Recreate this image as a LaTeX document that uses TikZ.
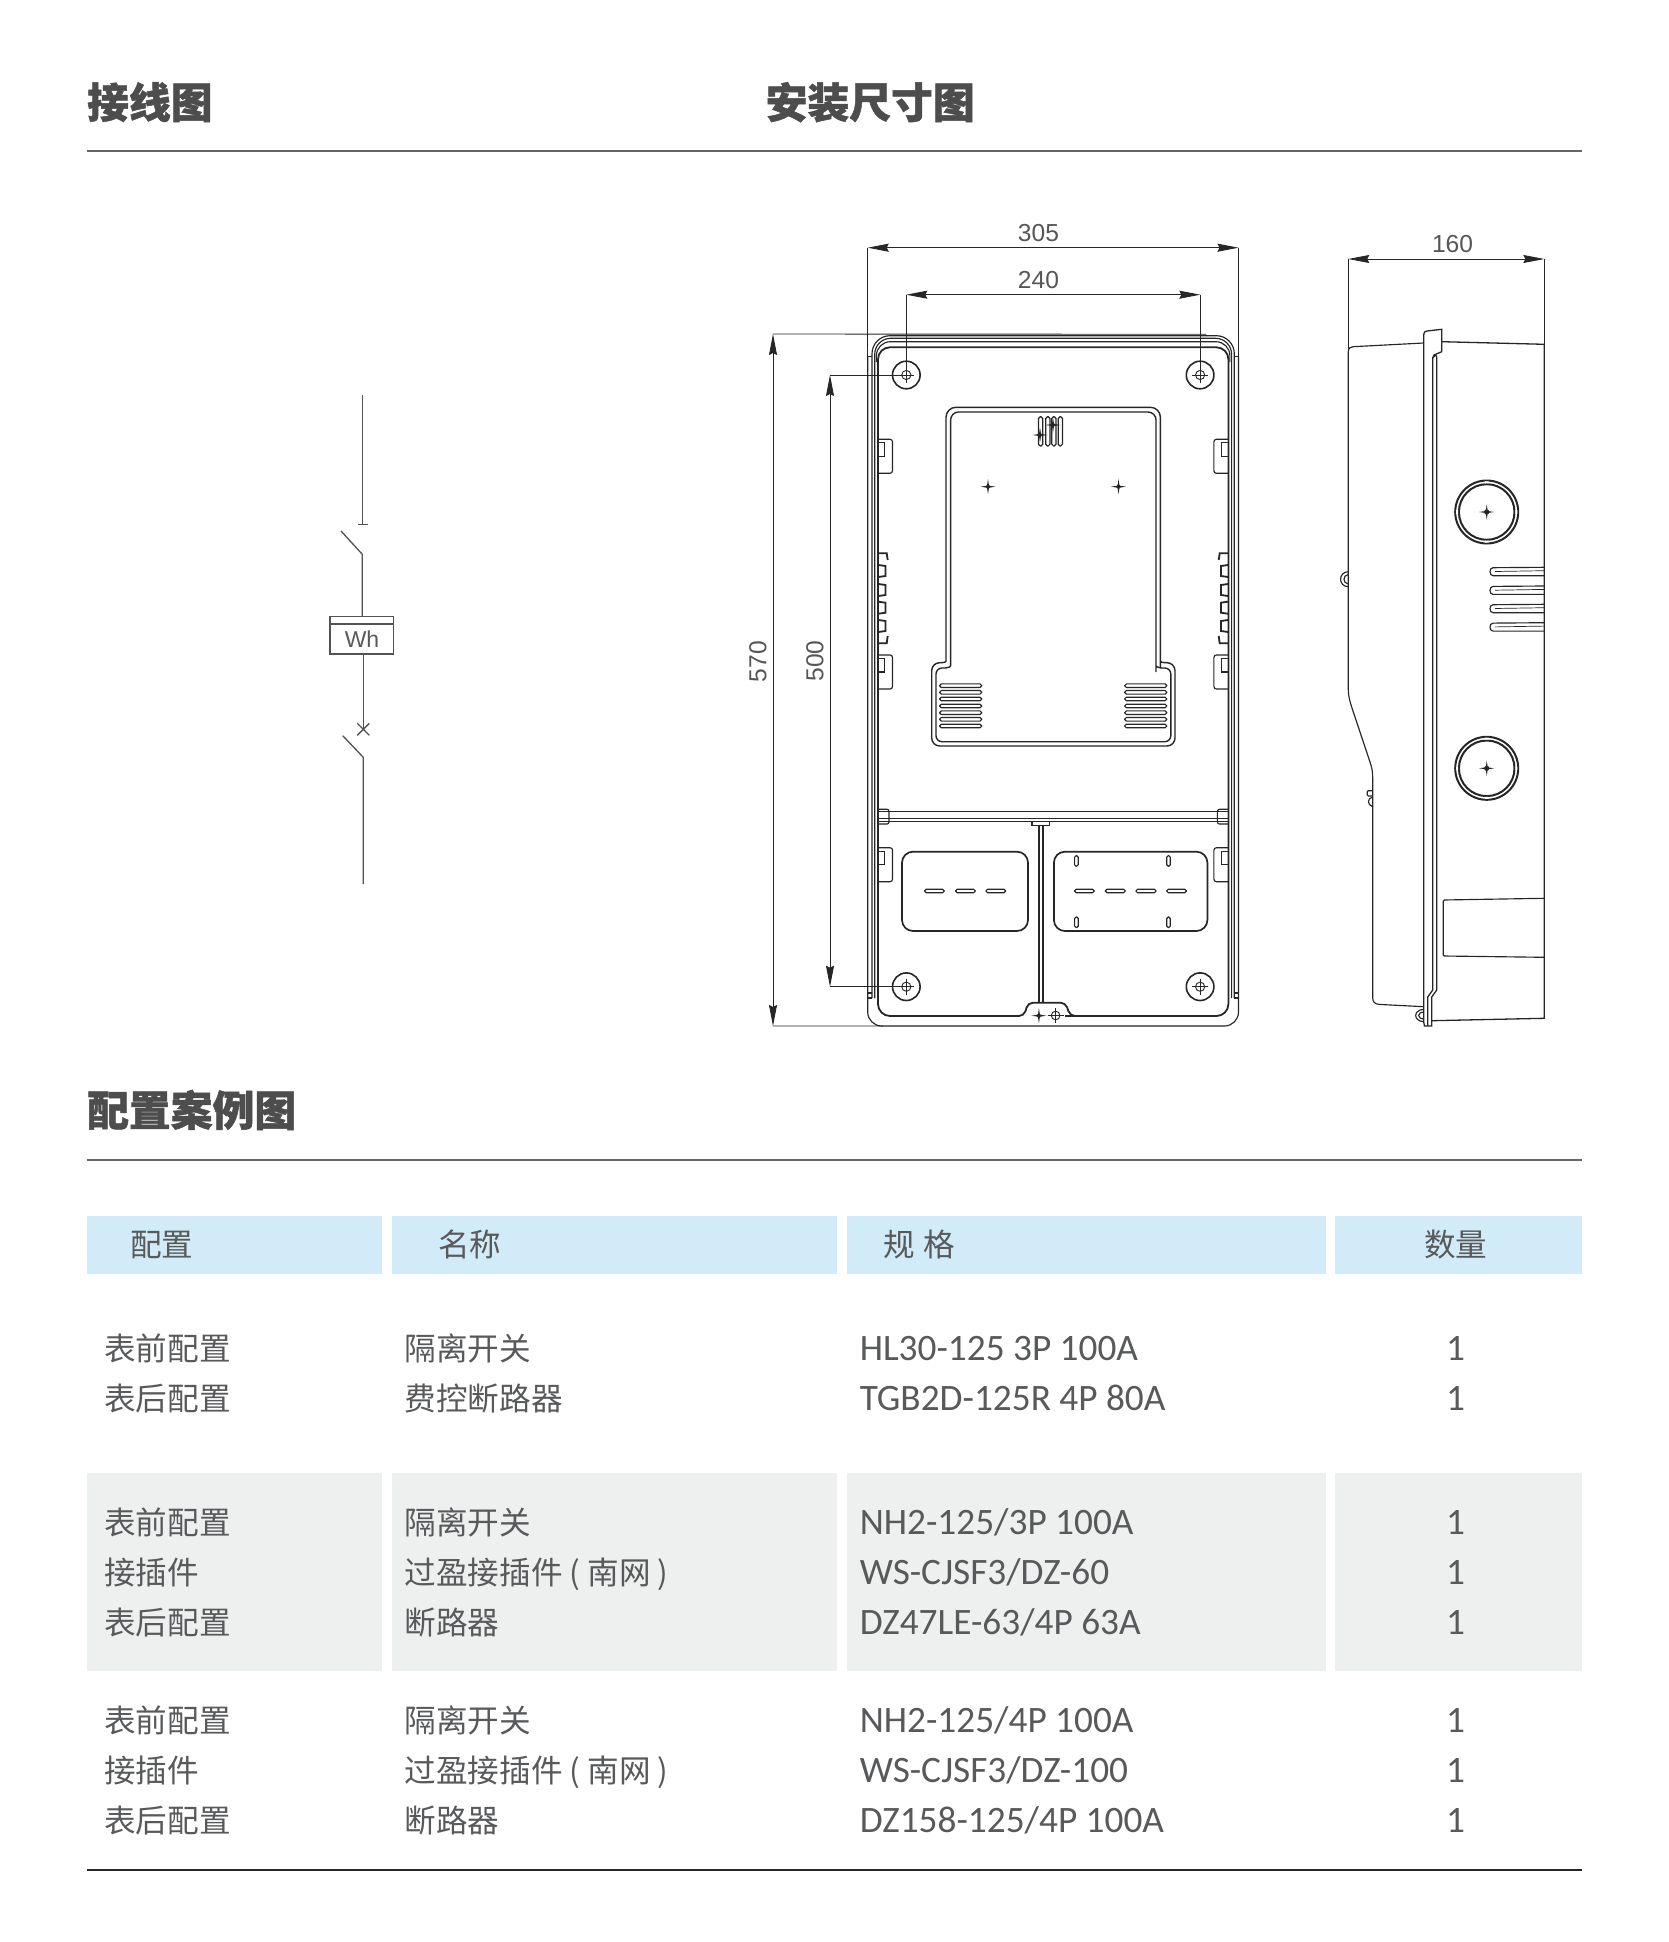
\documentclass[tikz,border=0pt]{standalone}
\usepackage{fontspec}
\usetikzlibrary{arrows.meta}
\setmainfont{Liberation Sans}
\newfontfamily\cjk{Noto Sans CJK SC}[BoldFeatures={FakeBold=1.2}]
\newfontfamily\latinrow{Carlito}
\definecolor{ink}{HTML}{262626}
\definecolor{txt}{HTML}{58595B}
\definecolor{ttl}{HTML}{4D4D4D}
\definecolor{hdr}{HTML}{D2EBF8}
\definecolor{band}{HTML}{EEEFEF}
\tikzset{
  part/.style={draw=ink,line width=1.15pt},
  heavy/.style={draw=ink,line width=1.8pt},
  dimline/.style={draw=ink,line width=0.9pt,{Stealth[length=21pt,width=8pt,inset=2pt]}-{Stealth[length=21pt,width=8pt,inset=2pt]}},
  extline/.style={draw=ink,line width=0.9pt},
  dimtext/.style={inner sep=0pt,text=ink!78,font=\fontsize{24.6}{25}\selectfont},
  wire/.style={draw=black!68,line width=1.3pt},
  title/.style={inner sep=0pt,anchor=base west,text=ttl,font=\cjk\bfseries\fontsize{41.8}{42}\selectfont},
  rule/.style={draw=black!60,line width=1.1pt},
  cellh/.style={fill=hdr,draw=none},
  cellg/.style={fill=band,draw=none},
  cjkcell/.style={inner sep=0pt,anchor=base west,text=txt,font=\cjk\fontsize{31.6}{32}\selectfont},
  spec/.style={inner sep=0pt,anchor=base west,text=txt,font=\latinrow\fontsize{37.3}{38}\selectfont},
  qty/.style={inner sep=0pt,anchor=base,text=txt,font=\latinrow\fontsize{37.3}{38}\selectfont},
}
% markers
\newcommand{\starshape}[3]{%
  \fill[ink] (#1-#3,#2)--(#1-1,#2-1)--(#1,#2-#3)--(#1+1,#2-1)--(#1+#3,#2)--(#1+1,#2+1)--(#1,#2+#3)--(#1-1,#2+1)--cycle;}
\newcommand{\starmark}[2]{%
  \starshape{#1}{#2}{7.5}
  \fill[ink] (#1,#2) circle[radius=2];}
\newcommand{\screwmark}[2]{%
  \draw[heavy,line width=1.6pt] (#1,#2) circle[radius=13.8];
  \draw[part,line width=.9pt] (#1,#2) circle[radius=4.6];
  \draw[part,line width=.8pt] (#1-8,#2)--(#1+8,#2) (#1,#2-8)--(#1,#2+8);}
\newcommand{\clipmark}[1]{%
  \draw[part,rounded corners=2.5] (877,#1)--(891.5,#1)--(891.5,#1+34)--(877,#1+34);
  \draw[part] (877,#1+3.4)--(883.5,#1+3.4)--(883.5,#1+17)--(877,#1+17);}
\newcommand{\rbox}[1]{%
  \draw[heavy] (877.5,#1)--(884.5,#1+1)--(884.5,#1+11)--(877.5,#1+12);}
\newcommand{\halfparts}{%
  \screwmark{905.3}{375}
  \screwmark{905.3}{986.7}
  \clipmark{439.3}
  \clipmark{655}
  \clipmark{847.7}
  \draw[heavy] (877.5,553.3)--(885.7,553.3)--(886.7,560);
  \rbox{565}\rbox{584}\rbox{601.7}\rbox{620}
  \draw[heavy] (877.5,643.3)--(885.7,643.3)--(886.7,636);
  \draw[part,rounded corners=2] (877,809.3)--(888,809.3)--(888,824)--(877,824);
  \draw[part] (866.7,993)--(871,993);
  \draw[part] (866.7,356.7)--(871,356.7);
  \foreach \yy in {685.7,692.3,699,706,712.7,719.3,726}{
    \draw[part,rounded corners=1.7] (938.6,\yy-1.8) rectangle (980.7,\yy+1.8);}
}
\newcommand{\finmark}[1]{%
  \draw[part] (1543.3,#1)--(1492,#1+.4) .. controls (1488,#1+.4) and (1488,#1+8.4) .. (1492,#1+8.4)--(1543.3,#1+8.4);
  \draw[part,line width=.7pt] (1494,#1+4.2)--(1543.3,#1+3.4);}
\newcommand{\knock}[2]{%
  \draw[heavy,line width=2pt] (#1,#2) circle[radius=31.5];
  \draw[heavy,line width=2pt] (#1,#2) circle[radius=27.8];
  \fill[white] (#1-1.8,#2-30.6)rectangle(#1+1.8,#2-28.6) (#1-1.8,#2+28.6)rectangle(#1+1.8,#2+30.6)
               (#1-30.6,#2-1.8)rectangle(#1-28.6,#2+1.8) (#1+28.6,#2-1.8)rectangle(#1+30.6,#2+1.8);
  \starshape{#1}{#2}{7.5}
  \fill[ink] (#1,#2) circle[radius=2.6];}
\newcommand{\slotv}[2]{\draw[part,rounded corners=1.5] (#1-1.8,#2)rectangle(#1+1.8,#2+10.5);}
\newcommand{\sloth}[2]{\draw[part,rounded corners=1.7] (#1,891-1.8) rectangle (#2,891+1.8);}
\begin{document}
\begin{tikzpicture}[x=1pt,y=-1pt]
\useasboundingbox (0,0) rectangle (1668,1942);
\fill[white] (0,0) rectangle (1668,1942);

% headings and rules
\node[title] (t1) at (87,118) {接线图};
\node[title] (t2) at (765.5,118) {安装尺寸图};
\node[title] (t3) at (87,1126) {配置案例图};
\coordinate (r1a) at (86.5,151); \coordinate (r1b) at (1582,151);
\coordinate (r2a) at (86.5,1160); \coordinate (r2b) at (1582,1160);
\coordinate (r3a) at (86.5,1870); \coordinate (r3b) at (1582,1870);
\draw[rule] (r1a)--(r1b);
\draw[rule] (r2a)--(r2b);
\draw[rule,draw=black!85,line width=1.3pt] (r3a)--(r3b);

% single-line wiring diagram
\node[draw=black!68,line width=1.3pt,minimum width=63.4pt,minimum height=37.3pt,inner sep=0pt,anchor=north west] (meter) at (329.3,616) {};
\node[inner sep=0pt,text=black!65,font=\fontsize{23}{23}\selectfont] (wh) at (362,639.6) {Wh};
\coordinate (w1) at (362.3,395); \coordinate (w2) at (362.3,524.3);
\coordinate (sw1a) at (341,531); \coordinate (sw1b) at (362.3,554.3);
\coordinate (w3) at (363.3,729.3); \coordinate (sw2a) at (342.7,735.7); \coordinate (sw2b) at (363.3,757.3);
\coordinate (w4) at (363.3,884);
\draw[wire] (w1)--(w2);
\draw[wire] (357.7,524.3)--(367.7,524.3);
\draw[wire] (sw1a)--(sw1b)--(sw1b|-meter.north);
\draw[wire] (329.3,624)--(392.7,624);
\draw[wire] (w3|-meter.south)--(w3);
\draw[wire] (357.3,723.3)--(369.3,735.3) (357.3,735.3)--(369.3,723.3);
\draw[wire] (sw2a)--(sw2b)--(w4);

\begin{scope}[xshift=1pt]
% ---------- front view ----------
% outer shell
\draw[part,rounded corners=14] (866.7,356.7)--(866.7,1026)--(1237.5,1026)--(1237.5,356.7);
% cap lines
\draw[part,rounded corners=18] (871,998)--(871,335.7)--(1233.3,335.7)--(1233.3,998);
\draw[part,rounded corners=16] (873.7,998)--(873.7,338.3)--(1230.6,338.3)--(1230.6,998);
\draw[part,rounded corners=14] (875.4,362)--(875.4,341.7)--(1228.9,341.7)--(1228.9,362);
\draw[part] (866.7,998)--(871,998) (1237.5,998)--(1233.3,998);
% inner wall with bottom notch
\draw[heavy] (1052,347.3) [rounded corners=12] --(1227.4,347.3)--(1227.4,1016)--(1076,1016) [rounded corners=5] --(1069,1016)--(1064.6,1002.7)--(1027,1002.7)--(1023,1016) [rounded corners=12] --(877,1016)--(877,347.3)--cycle;
% mirrored details
\begin{scope}\halfparts\end{scope}
\begin{scope}[shift={(2104.4,0)},xscale=-1]\halfparts\end{scope}
% crossbar and divider
\draw[part,line width=1.5pt] (877,811.7)--(1227.4,811.7) (877,818.3)--(1227.4,818.3) (877,821.7)--(1227.4,821.7);
\draw[part,fill=white] (1031,821.7) rectangle (1048.6,825.7);
\draw[part,line width=1.4pt] (1038,825.7)--(1038,1002.7) (1042,825.7)--(1042,1002.7);
% meter recess
\draw[heavy,line width=1.4pt] (945,658)[rounded corners=10] --(945,407.3)--(1159.4,407.3)--(1159.4,658) [rounded corners=1] --(1159.4,662)--(1164,662.7) [rounded corners=8] --(1174,662.7)--(1174,746)--(930.7,746)--(930.7,662.7) [rounded corners=1] --(941,662.7)--(945,662)--cycle;
\draw[heavy,line width=1.4pt] (949.6,664)[rounded corners=8] --(949.6,412)--(1155,412)--(1155,664) [rounded corners=1] --(1155,666.7)--(1160,668) [rounded corners=6] --(1169.8,668)--(1169.8,741.7)--(935,741.7)--(935,668) [rounded corners=1] --(945,668)--(949.6,666.7)--cycle;
\foreach \xx in {1039.6,1046.8,1052.9,1059.3}{
  \draw[part,line width=1.2pt,rounded corners=1.8] (\xx-2.1,416.7) rectangle (\xx+2.1,446);}
\starmark{1039}{435}
\starmark{1052}{425}
\starmark{987}{486.7}
\starmark{1117.5}{486.7}
% terminal windows
\draw[heavy,line width=1.7pt,rounded corners=11] (901,851.7) rectangle (1027,931);
\draw[heavy,line width=1.7pt,rounded corners=11] (1052.9,851.7) rectangle (1206.4,931);
\sloth{923.6}{943.2}\sloth{954.6}{974.3}\sloth{985}{1004.6}
\sloth{1073.6}{1093.2}\sloth{1104.3}{1124.3}\sloth{1135}{1155}\sloth{1165.7}{1185.4}
\slotv{1075.4}{855.7}\slotv{1167.5}{855.7}\slotv{1075.4}{917}\slotv{1167.5}{917}
% bottom marks
\starmark{1037.9}{1015.7}
\draw[part,line width=.9pt] (1054.6,1015.5) circle[radius=4.3];
\draw[part,line width=.8pt] (1046.6,1015.5)--(1062.6,1015.5) (1054.6,1008)--(1054.6,1023);

% dimensions of the front view
\coordinate (a305) at (866.7,247.7); \coordinate (b305) at (1237.5,247.7);
\coordinate (a240) at (905.3,294.7); \coordinate (b240) at (1199.3,294.7);
\coordinate (a570) at (772,334); \coordinate (b570) at (772,1026);
\coordinate (a500) at (829,375); \coordinate (b500) at (829,986.7);
\draw[dimline] (a305)--(b305);
\draw[dimline] (a240)--(b240);
\draw[dimline] (a570)--(b570);
\draw[dimline] (a500)--(b500);
\draw[extline] (a305)--(866.7,356.7) (b305)--(1237.5,356.7);
\draw[extline] (a240)--(905.3,375) (b240)--(1199.3,375);
\draw[extline] (a570)--(1205,334.3) (b570)--(882,1026);
\draw[extline] (a500)--(905.3,375) (b500)--(905.3,986.7);
\node[dimtext] (n305) at (1037.5,233.5) {305};
\node[dimtext] (n240) at (1037.5,280) {240};
\node[dimtext,rotate=90] (n570) at (757,661.7) {570};
\node[dimtext,rotate=90] (n500) at (814,661) {500};

% ---------- side view ----------
\coordinate (a160) at (1347.3,259); \coordinate (b160) at (1543.3,259);
\draw[dimline] (a160)--(b160);
\draw[extline] (a160)--(1347.3,352) (b160)--(1543.3,344.3);
\node[dimtext] (n160) at (1451.5,244.3) {160};
% rear shell
\draw[part] (1422.7,343)--(1352,346.7) .. controls (1349,347) and (1347.3,348) .. (1347.3,352)--(1347.3,690) .. controls (1347.3,696) and (1349,702) .. (1351,708)--(1369,762) .. controls (1371,768) and (1371.7,772) .. (1371.7,778)--(1371.7,998) .. controls (1371.7,1002) and (1374,1004) .. (1378,1004.4)--(1422.7,1006.7);
% front shell
\draw[part,line width=1.3pt] (1440.7,341.7)--(1543.3,344.3)--(1543.3,1018.3)--(1431,1020.7);
% flange
\draw[part,line width=1.3pt] (1422.7,1022)--(1422.7,336) .. controls (1422.7,332) and (1424,331) .. (1426,331)--(1440.7,329.3)--(1440.7,351.7)--(1433,355) .. controls (1431.7,356) and (1431.7,357) .. (1431.7,358)--(1431.7,990)--(1426.7,997)--(1426.7,1026);
\draw[part,line width=1.3pt] (1431.7,358) .. controls (1432,355.5) and (1435.7,354.5) .. (1435.7,357)--(1435.7,990)--(1430.7,997)--(1430.7,1026)--(1423.5,1026)--(1422.7,1022);
% lugs
\draw[part] (1422.7,1009.3) .. controls (1412,1010) and (1412,1021) .. (1422.7,1021.7);
\draw[part] (1422.7,1012) .. controls (1416,1012.5) and (1416,1018.5) .. (1422.7,1019);
\draw[part] (1347.3,571.7) .. controls (1337,572) and (1337,586.5) .. (1347.3,586.7);
\draw[part] (1347.3,574.5) .. controls (1341.5,575) and (1341.5,583.5) .. (1347.3,584);
\draw[part,rounded corners=1] (1371.7,790.7)--(1366.3,790.7)--(1366.3,796)--(1371.7,796);
\draw[part] (1371.7,797) .. controls (1366,798) and (1366,805) .. (1371.7,806.7);
% knockouts, fins, label
\knock{1485.7}{512}
\knock{1485.7}{768.3}
\finmark{567.3}\finmark{586}\finmark{604.3}\finmark{622.7}
\draw[part,rounded corners=1] (1543.3,898.3)--(1442.3,900)--(1442.3,956)--(1543.3,957.3);
\end{scope}

% ---------- table ----------
\fill[cellh] (86.5,1216) rectangle (382.2,1274);
\fill[cellh] (392.2,1216) rectangle (836.8,1274);
\fill[cellh] (846.6,1216) rectangle (1325.8,1274);
\fill[cellh] (1335.4,1216) rectangle (1582,1274);
\fill[cellg] (86.5,1473.3) rectangle (382.2,1671);
\fill[cellg] (392.2,1473.3) rectangle (836.8,1671);
\fill[cellg] (846.6,1473.3) rectangle (1325.8,1671);
\fill[cellg] (1335.4,1473.3) rectangle (1582,1671);

\node[cjkcell] (h1) at (130,1256.5) {配置};
\node[cjkcell] (h2) at (438,1256.5) {名称};
\node[cjkcell] (h3) at (883,1256.5) {规\hspace{9pt}格};
\node[cjkcell] (h4) at (1424,1256.5) {数量};

\node[cjkcell] (c11) at (104,1360) {表前配置};
\node[cjkcell] (c12) at (104,1410) {表后配置};
\node[cjkcell] (n11) at (404.5,1360) {隔离开关};
\node[cjkcell] (n12) at (404.5,1410) {费控断路器};
\node[spec] (s11) at (859.6,1360) {HL30-125 3P 100A};
\node[spec] (s12) at (859.6,1410) {TGB2D-125R 4P 80A};
\node[qty] (q11) at (1455.5,1360) {1};
\node[qty] (q12) at (1455.5,1410) {1};

\node[cjkcell] (c21) at (104,1534.6) {表前配置};
\node[cjkcell] (c22) at (104,1584.6) {接插件};
\node[cjkcell] (c23) at (104,1634.6) {表后配置};
\node[cjkcell] (n21) at (404.5,1534.6) {隔离开关};
\node[cjkcell] (n22) at (404.5,1584.6) {过盈接插件 ( 南网 )};
\node[cjkcell] (n23) at (404.5,1634.6) {断路器};
\node[spec] (s21) at (859.6,1534.6) {NH2-125/3P 100A};
\node[spec] (s22) at (859.6,1584.6) {WS-CJSF3/DZ-60};
\node[spec] (s23) at (859.6,1634.6) {DZ47LE-63/4P 63A};
\node[qty] (q21) at (1455.5,1534.6) {1};
\node[qty] (q22) at (1455.5,1584.6) {1};
\node[qty] (q23) at (1455.5,1634.6) {1};

\node[cjkcell] (c31) at (104,1732.6) {表前配置};
\node[cjkcell] (c32) at (104,1782.6) {接插件};
\node[cjkcell] (c33) at (104,1832.6) {表后配置};
\node[cjkcell] (n31) at (404.5,1732.6) {隔离开关};
\node[cjkcell] (n32) at (404.5,1782.6) {过盈接插件 ( 南网 )};
\node[cjkcell] (n33) at (404.5,1832.6) {断路器};
\node[spec] (s31) at (859.6,1732.6) {NH2-125/4P 100A};
\node[spec] (s32) at (859.6,1782.6) {WS-CJSF3/DZ-100};
\node[spec] (s33) at (859.6,1832.6) {DZ158-125/4P 100A};
\node[qty] (q31) at (1455.5,1732.6) {1};
\node[qty] (q32) at (1455.5,1782.6) {1};
\node[qty] (q33) at (1455.5,1832.6) {1};
\end{tikzpicture}
\end{document}
